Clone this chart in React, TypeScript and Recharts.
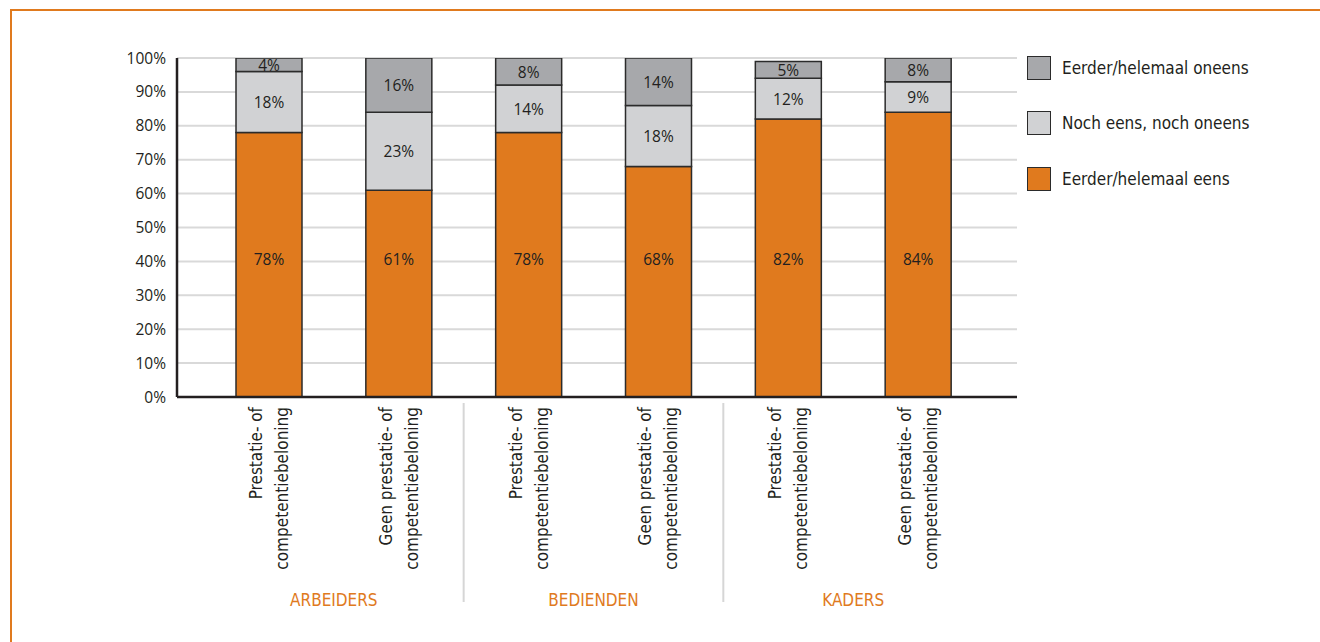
import { BarChart, Bar, XAxis, YAxis, CartesianGrid, LabelList } from 'recharts'

// categories (unique keys, labels shown on two lines)
const keys = ['a1', 'a2', 'b1', 'b2', 'k1', 'k2']
const line1 = ['Prestatie- of', 'Geen prestatie- of', 'Prestatie- of', 'Geen prestatie- of', 'Prestatie- of', 'Geen prestatie- of']
const line2 = ['competentiebeloning', 'competentiebeloning', 'competentiebeloning', 'competentiebeloning', 'competentiebeloning', 'competentiebeloning']
const groups = ['ARBEIDERS', 'BEDIENDEN', 'KADERS']

const eens = [78, 61, 78, 68, 82, 84]
const noch = [18, 23, 14, 18, 12, 9]
const oneens = [4, 16, 8, 14, 5, 8]

const yTicks = [0, 10, 20, 30, 40, 50, 60, 70, 80, 90, 100]

const ORANGE = '#e07a1e'
const LIGHT = '#d1d2d4'
const DARK = '#a7a8ab'
const EDGE = '#2b2b2b'
const NARROW = '"Liberation Sans Narrow", "DejaVu Sans Condensed", "Roboto", sans-serif'
const BODY = '"Open Sans", "Noto Sans", sans-serif'

const data = keys.map((k, i) => ({
  key: k,
  eens: eens[i],
  noch: noch[i],
  oneens: oneens[i],
}))

const series = [
  { key: 'oneens', name: 'Eerder/helemaal oneens', color: DARK },
  { key: 'noch', name: 'Noch eens, noch oneens', color: LIGHT },
  { key: 'eens', name: 'Eerder/helemaal eens', color: ORANGE },
]

function CategoryTick(props: any) {
  const { x, y, payload, index } = props
  const half = payload && payload.offset ? payload.offset : 65
  return (
    <g>
      <text
        transform={`translate(${x},${y + 2}) rotate(-90)`}
        textAnchor="end"
        fontFamily={NARROW}
        fontSize={17}
        fill="#231f20"
      >
        <tspan x={0} y={-7}>{line1[index]}</tspan>
        <tspan x={0} y={19}>{line2[index]}</tspan>
      </text>
      {index % 2 === 0 && (
        <text
          x={x + half}
          y={y + 201}
          textAnchor="middle"
          fontFamily={NARROW}
          fontSize={17}
          fill={ORANGE}
        >
          {groups[index / 2]}
        </text>
      )}
      {(index === 1 || index === 3) && (
        <line x1={x + half} x2={x + half} y1={y - 2} y2={y + 197} stroke="#d6d6d6" strokeWidth={2} />
      )}
    </g>
  )
}

// orange labels sit at a fixed height, the grey ones in the middle of their segment
function EensLabel(props: any) {
  const { x, y, width, height, value } = props
  return (
    <text x={x + width / 2} y={y + height - 132} textAnchor="middle" fontFamily={BODY} fontSize={15.5} fill="#231f20">
      {value}%
    </text>
  )
}

function MidLabel(props: any) {
  const { x, y, width, height, value } = props
  return (
    <text x={x + width / 2} y={y + height / 2 + 6} textAnchor="middle" fontFamily={BODY} fontSize={15.5} fill="#231f20">
      {value}%
    </text>
  )
}

function LegendBox() {
  return (
    <div style={{ position: 'absolute', left: 1027, top: 40, fontFamily: NARROW, fontSize: 17, color: '#231f20' }}>
      {series.map((s) => (
        <div key={s.key} style={{ display: 'flex', alignItems: 'center', height: 55.5 }}>
          <div style={{ width: 22, height: 22, background: s.color, border: `1.5px solid ${EDGE}`, marginRight: 11 }} />
          <span>{s.name}</span>
        </div>
      ))}
    </div>
  )
}

export default function App() {
  return (
    <div style={{ position: 'absolute', left: 0, top: 0, width: 1320, height: 642, background: '#fff', overflow: 'hidden' }}>
      <div style={{ position: 'absolute', left: 10, top: 9, width: 1310, height: 640, borderTop: `2.5px solid ${ORANGE}`, borderLeft: `2.5px solid ${ORANGE}` }} />
      <div style={{ position: 'absolute', left: 0, top: 0 }}>
        <BarChart
          width={1320}
          height={642}
          data={data}
          margin={{ top: 58, right: 303, bottom: 0, left: 117 }}
          barSize={66}
        >
          <CartesianGrid vertical={false} stroke="#d9d9d9" strokeWidth={2} />
          <XAxis
            dataKey="key"
            height={245}
            interval={0}
            padding={{ left: 27, right: 34 }}
            tickLine={false}
            axisLine={{ stroke: '#231f20', strokeWidth: 2.5 }}
            tick={<CategoryTick />}
          />
          <YAxis
            width={60}
            domain={[0, 100]}
            ticks={yTicks}
            allowDataOverflow
            tickLine={false}
            tickMargin={5}
            axisLine={{ stroke: '#231f20', strokeWidth: 2.5 }}
            tickFormatter={(v) => `${v}%`}
            tick={{ fontFamily: BODY, fontSize: 15.5, fill: '#231f20' }}
          />
          <Bar dataKey="eens" stackId="s" name="Eerder/helemaal eens" fill={ORANGE} stroke={EDGE} strokeWidth={1.5} isAnimationActive={false}>
            <LabelList dataKey="eens" content={<EensLabel />} />
          </Bar>
          <Bar dataKey="noch" stackId="s" name="Noch eens, noch oneens" fill={LIGHT} stroke={EDGE} strokeWidth={1.5} isAnimationActive={false}>
            <LabelList dataKey="noch" content={<MidLabel />} />
          </Bar>
          <Bar dataKey="oneens" stackId="s" name="Eerder/helemaal oneens" fill={DARK} stroke={EDGE} strokeWidth={1.5} isAnimationActive={false}>
            <LabelList dataKey="oneens" content={<MidLabel />} />
          </Bar>
        </BarChart>
      </div>
      <LegendBox />
    </div>
  )
}
